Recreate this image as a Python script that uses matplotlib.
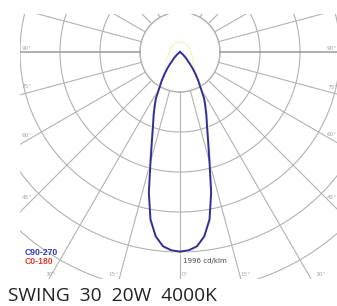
import numpy as np
import matplotlib
matplotlib.use("Agg")
import matplotlib.pyplot as plt

# ---- data (cd/klm) ----
angles_c90 = [0, 2.5, 5, 7.5, 10, 12.5, 15, 17.5, 20, 22.5, 25, 27.5, 30, 32.5, 35, 37.5, 40, 45, 50, 55, 60, 90]
inten_c90 = [1996, 1985, 1950, 1860, 1700, 1440, 1140, 935, 790, 690, 600, 520, 410, 340, 270, 210, 150, 80, 35, 10, 0, 0]

angles_c0 = [0, 5, 10, 15, 20, 25, 30, 35, 40, 45, 50, 60, 70, 90, 120, 150, 180]
inten_c0 = [2020, 1970, 1730, 1190, 830, 640, 460, 330, 240, 190, 170, 160, 130, 110, 100, 100, 100]

ring_values = [400, 800, 1200, 1600, 2000, 2400, 2800]
spoke_angles = list(range(0, 360, 15))
max_label = "1996 cd/klm"
legend_labels = ["C90-270", "C0-180"]
angle_labels_left = ["90°", "75°", "60°", "45°"]
angle_labels_bottom = ["30°", "15°", "0°", "15°", "30°"]
angle_labels_right = ["90°", "75°", "60°", "45°"]
title = "SWING  30  20W  4000K"

SCALE = 0.1  # px per cd/klm
INNER = 40

fig = plt.figure(figsize=(3.37, 3.06), dpi=100)
ax = fig.add_axes([20/337, 27/306, 317/337, 265/306])
ax.set_xlim(-160, 157)
ax.set_ylim(-227, 38)
ax.set_aspect('equal')
ax.axis('off')

grid_c = '#b2b2b2'
t = np.linspace(0, 2*np.pi, 721)
ax.plot(INNER*np.cos(t), INNER*np.sin(t), color=grid_c, lw=0.8)
for rv in ring_values:
    r = rv*SCALE
    ax.plot(r*np.cos(t), r*np.sin(t), color=grid_c, lw=0.8)
for a in spoke_angles:
    th = np.deg2rad(a)
    col = '#9a9a9a' if a in (90, 270) else grid_c
    lw = 1.1 if a in (90, 270) else 0.8
    ax.plot([INNER*np.sin(th), 400*np.sin(th)], [-INNER*np.cos(th), -400*np.cos(th)], color=col, lw=lw)

def curve(angles, vals):
    a = np.deg2rad(np.array(angles, float))
    v = np.array(vals, float)*SCALE
    aa = np.concatenate([-a[::-1], a[1:]])
    vv = np.concatenate([v[::-1], v[1:]])
    return vv*np.sin(aa), -vv*np.cos(aa)

x0, y0 = curve(angles_c0, inten_c0)
ax.plot(x0, y0, color='#f8f4c8', lw=1.0, zorder=3)
x1, y1 = curve(angles_c90, inten_c90)
ax.plot(x1, y1, color='#2e2e9e', lw=1.4, zorder=4)

lab_kw = dict(fontsize=4.2, color='#a8a8a8', va='center', ha='left')
for s, y in zip(angle_labels_left, [4, -35, -84, -146]):
    ax.text(-158, y, s, **lab_kw)
for s, y in zip(angle_labels_right, [4, -36, -83, -146]):
    ax.text(147, y, s, **lab_kw)
for s, x in zip(angle_labels_bottom, [-135, -72, 2, 60, 135]):
    ax.text(x, -222, s, **lab_kw)

ax.text(3, -209, max_label, fontsize=5, color='#444444', va='center', ha='left')
ax.text(-155, -201, legend_labels[0], fontsize=6.2, color='#2b3bc8', fontweight='bold',
        family='Liberation Sans', va='center', ha='left')
ax.text(-155, -210, legend_labels[1], fontsize=6.2, color='#e2402a', fontweight='bold',
        family='Liberation Sans', va='center', ha='left')

fig.text(8/337, 1 - 296/306, title, fontsize=13.8, family='Open Sans', color='#222222',
         va='center', ha='left')

fig.savefig('out.png', dpi=100, facecolor='white')
